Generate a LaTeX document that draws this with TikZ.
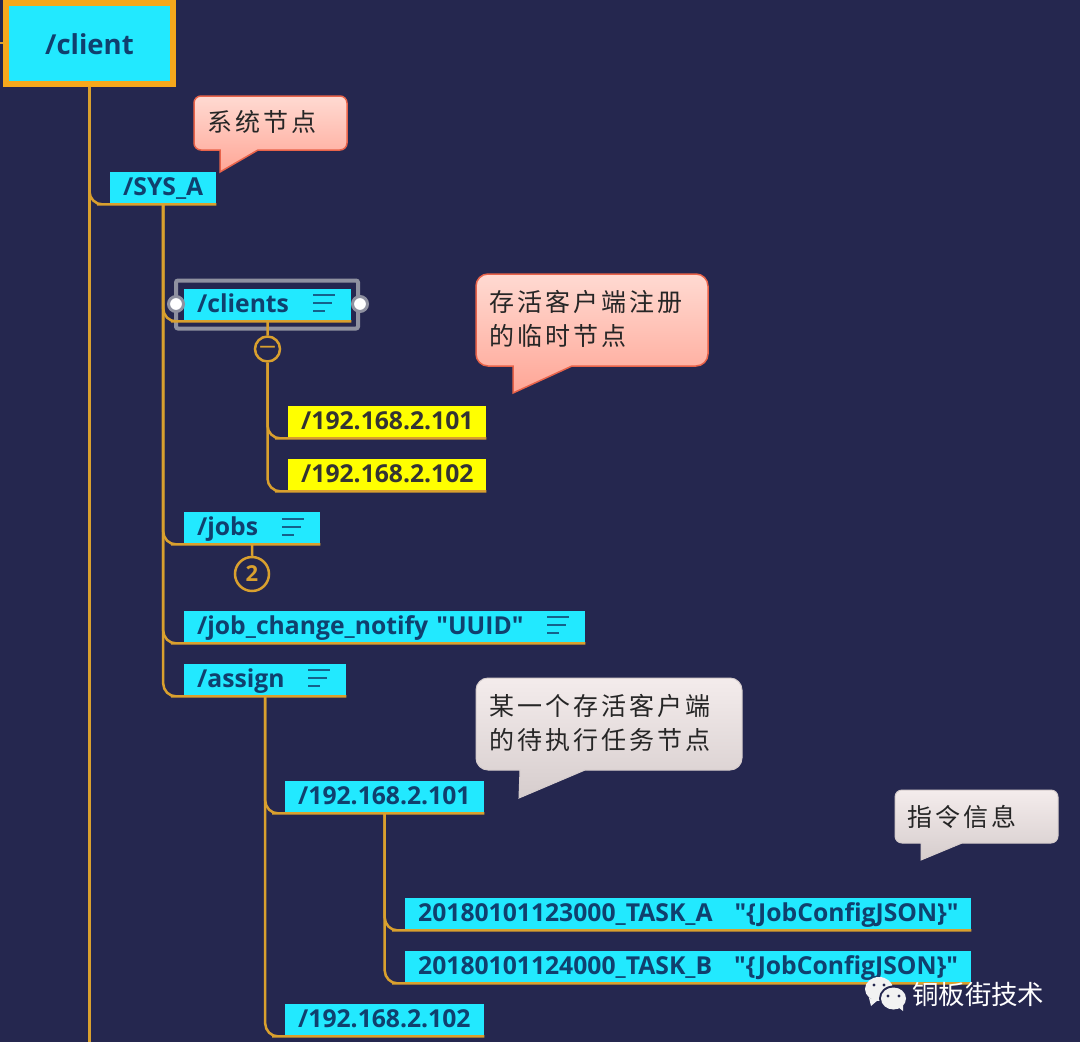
\documentclass[tikz,border=0pt]{standalone}
\usepackage{fontspec}
\newfontfamily\topicfont{Open Sans}
\newfontfamily\cjk[LetterSpace=12]{Noto Sans CJK SC}
\newfontfamily\markfont{Noto Sans CJK SC}
\definecolor{bgblue}{HTML}{25274F}
\definecolor{topiccyan}{HTML}{22E9FF}
\definecolor{topicyellow}{HTML}{FFFF00}
\definecolor{inkblue}{HTML}{10406E}
\definecolor{branchline}{HTML}{D9A02E}
\definecolor{frameorange}{HTML}{F5A81C}
\definecolor{framegray}{HTML}{8F91A0}
\definecolor{pinktop}{HTML}{FFDAD2}
\definecolor{pinkbottom}{HTML}{FFA696}
\definecolor{pinkline}{HTML}{E8634A}
\definecolor{graytop}{HTML}{F4ECEC}
\definecolor{graybottom}{HTML}{D6CDCD}
\tikzset{
    branch/.style={branchline, line width=2.5pt, rounded corners=13pt},
    topic/.style={anchor=north west, fill=topiccyan, text=inkblue, font=\fontsize{24.7}{25}\selectfont\topicfont\bfseries,
        inner xsep=13pt, inner ysep=0pt, minimum height=32pt, text height=20pt, text depth=5pt, align=left},
    ytopic/.style={topic, fill=topicyellow, text=black!80},
    note/.style={inkblue!80!topiccyan, line width=2.5pt},
    fold/.style={circle, draw=branchline, line width=2.5pt, fill=bgblue, text=branchline, inner sep=0pt},
    handle/.style={circle, draw=framegray, line width=3pt, fill=white, inner sep=0pt, minimum size=15pt},
    pinktip/.style={draw=pinkline, line width=1.5pt, top color=pinktop, bottom color=pinkbottom},
    graytip/.style={draw=graybottom, line width=1pt, top color=graytop, bottom color=graybottom},
    tiptext/.style={anchor=north west, text=black!85, font=\fontsize{25}{34}\selectfont\cjk, inner sep=0pt, align=left}
}
\begin{document}
\begin{tikzpicture}[x=1pt,y=-1pt]
    % Background
    \fill[bgblue] (0,0) rectangle (1080,1042);
    \useasboundingbox (0,0) rectangle (1080,1042);

    % Topics
    \node[topic, anchor=center, draw=frameorange, line width=6pt, minimum width=167pt, minimum height=81pt,
        text height=25pt, text depth=3pt, font=\fontsize{27.5}{27.5}\selectfont\topicfont\bfseries] (client) at (89.5,43) {/client};
    \node[topic, text width=80pt] (sysA) at (110,172) {/SYS\_A};
    \node[topic, text width=141pt] (clients) at (184,289) {/clients};
    \node[ytopic, text width=172pt] (ipA) at (288,406) {/192.168.2.101};
    \node[ytopic, text width=172pt] (ipB) at (288,459) {/192.168.2.102};
    \node[topic, text width=110pt] (jobs) at (184,512) {/jobs};
    \node[topic, text width=375pt] (notify) at (184,611) {/job\_change\_notify "UUID"};
    \node[topic, text width=136pt] (assign) at (184,664) {/assign};
    \node[topic, text width=173pt] (assignA) at (285,781) {/192.168.2.101};
    \node[topic, text width=540pt] (taskA) at (405,898) {\mbox{20180101123000\_TASK\_A\hspace{22pt}"\{JobConfigJSON\}"}};
    \node[topic, text width=540pt] (taskB) at (405,951) {\mbox{20180101124000\_TASK\_B\hspace{22pt}"\{JobConfigJSON\}"}};
    \node[topic, text width=173pt] (assignB) at (285,1004) {/192.168.2.102};

    % Fold marks
    \node[fold, minimum size=25pt, font=\fontsize{16}{16}\selectfont\topicfont\bfseries] (clientsFold) at (267.5,349) {—};
    \node[fold, minimum size=34pt, font=\fontsize{22}{22}\selectfont\topicfont\bfseries] (jobsFold) at (252,574) {2};

    % Free ends of the long lines
    \coordinate (leftEnd) at (0,43);
    \coordinate (bottomEnd) at (89.5,1042);

    % Selection frame and handles
    \node[draw=framegray, line width=4pt, rounded corners=2pt, minimum width=182pt, minimum height=48pt, inner sep=0pt] (clientsFrame) at (267,304.5) {};

    % Branches
    \draw[branch] (leftEnd) -- (client.west);
    \draw[branch] (client.south) -- (bottomEnd);
    \draw[branch] (client.south) |- (sysA.south west) -- (sysA.south east);
    \foreach \child in {clients,jobs,notify,assign}
    \draw[branch] (sysA.south) |- (\child.south west) -- (\child.south east);
    \draw[branch] (clients.south) -- (clientsFold.north);
    \foreach \child in {ipA,ipB}
    \draw[branch] (clientsFold.south) |- (\child.south west) -- (\child.south east);
    \draw[branch] (jobs.south) -- (jobsFold.north);
    \foreach \child in {assignA,assignB}
    \draw[branch] (assign.south) |- (\child.south west) -- (\child.south east);
    \foreach \child in {taskA,taskB}
    \draw[branch] (assignA.south) |- (\child.south west) -- (\child.south east);

    \node[handle] (handleL) at (176,304) {};
    \node[handle] (handleR) at (360,304) {};

    % Note icons
    \foreach \x/\y in {313/303,282/527,547/625,308/678}
    {
        \draw[note] (\x,\y-8) -- (\x+22,\y-8);
        \draw[note] (\x,\y) -- (\x+19,\y);
        \draw[note] (\x,\y+8) -- (\x+12,\y+8);
    }

    % Callouts
    \draw[pinktip] (220,150) [rounded corners=7pt] -- (194,150) -- (194,96) -- (347,96) -- (347,150) [sharp corners] -- (258,150) -- (220,172) -- cycle;
    \node[tiptext] (tipSys) at (207,110) {系统节点};
    \draw[pinktip] (513,366) [rounded corners=12pt] -- (476,366) -- (476,274) -- (708,274) -- (708,366) [sharp corners] -- (572,366) -- (513,393) -- cycle;
    \node[tiptext] (tipClients) at (489,290) {存活客户端注册\\的临时节点};
    \draw[graytip] (520,770) [rounded corners=12pt] -- (476,770) -- (476,678) -- (742,678) -- (742,770) [sharp corners] -- (585,770) -- (519,798) -- cycle;
    \node[tiptext] (tipAssign) at (489,694) {某一个存活客户端\\的待执行任务节点};
    \draw[graytip] (921,843) [rounded corners=7pt] -- (895,843) -- (895,790) -- (1058,790) -- (1058,843) [sharp corners] -- (962,843) -- (921,860) -- cycle;
    \node[tiptext] (tipTask) at (907,805) {指令信息};

    % Watermark
    \fill[white!90!gray] (879,989) ellipse (14 and 12);
    \fill[white!90!gray] (869,998) -- (871,1006) -- (878,1000) -- cycle;
    \fill[bgblue] (893.5,998.5) ellipse (14.5 and 13);
    \fill[white!90!gray] (893.5,998.5) ellipse (12.5 and 11);
    \fill[white!90!gray] (898,1007) -- (903,1011) -- (903,1003) -- cycle;
    \foreach \x/\y in {874/985,884/985,888/996,899/996}
    \fill[bgblue] (\x,\y) circle (1.7);
    \node[anchor=west, text=white, font=\fontsize{26.4}{26.4}\selectfont\markfont, inner sep=0pt] (mark) at (912,994) {铜板街技术};
\end{tikzpicture}
\end{document}
